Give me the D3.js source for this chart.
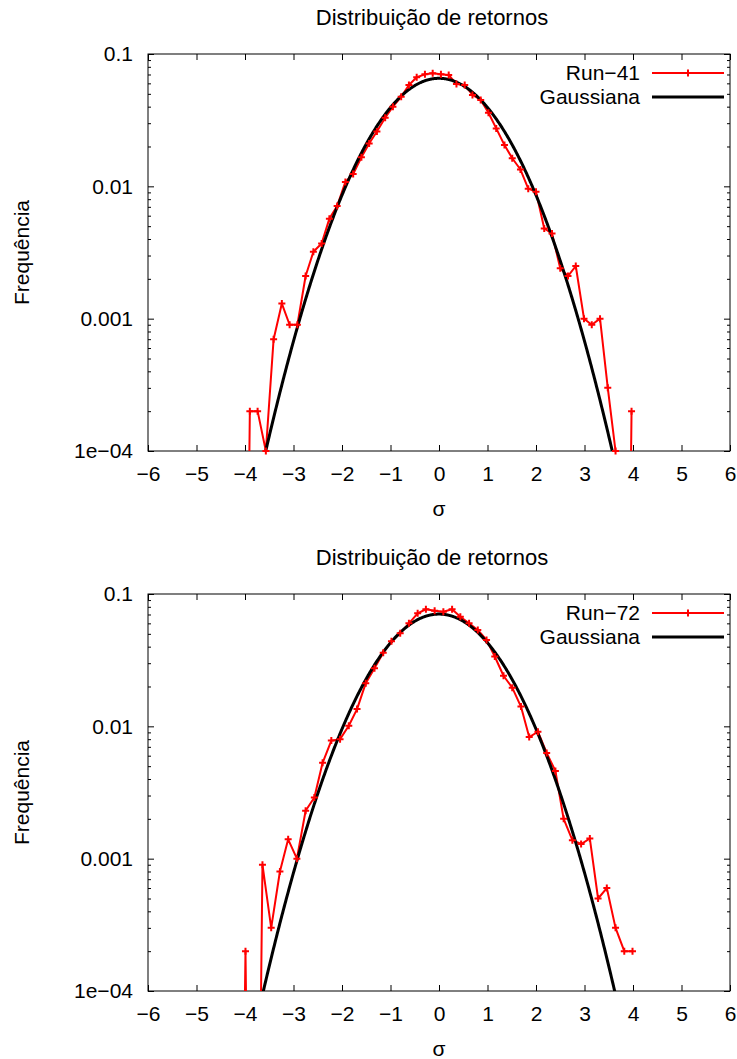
<!DOCTYPE html>
<html>
<head>
<meta charset="utf-8">
<script src="https://cdn.jsdelivr.net/npm/d3@7"></script>
<style>
  body { margin: 0; background: #fff; }
  text { font-family: "Liberation Sans", Arial, sans-serif; font-size: 21px; fill: #000; }
</style>
</head>
<body>
<svg id="chart" width="737" height="1059"></svg>
<script>
// tick values and labels
const xTicks = [-6, -5, -4, -3, -2, -1, 0, 1, 2, 3, 4, 5, 6];
const yTicks = [0.1, 0.01, 0.001, 0.0001];
const yTickLabels = ['0.1', '0.01', '0.001', '1e\u221204'];

// Run-41 histogram (sigma, frequency); 0 = empty bin
const sigma41 = [-4.06, -3.90, -3.74, -3.57, -3.41, -3.24, -3.08, -2.92, -2.75, -2.59, -2.42,
  -2.26, -2.10, -1.93, -1.77, -1.60, -1.44, -1.28, -1.11, -0.95, -0.78, -0.62, -0.46,
  -0.29, -0.13, 0.04, 0.20, 0.36, 0.53, 0.69, 0.86, 1.02, 1.18, 1.35, 1.51, 1.68, 1.84,
  2.00, 2.17, 2.33, 2.50, 2.66, 2.82, 2.99, 3.15, 3.32, 3.48, 3.64, 3.81, 3.97];
const freq41 = [0, 0.0002, 0.0002, 0.0001, 0.0007, 0.0013, 0.0009, 0.0009, 0.0021, 0.0032, 0.0037,
  0.0057, 0.0071, 0.0108, 0.0124, 0.0166, 0.0211, 0.026, 0.033, 0.040, 0.0475, 0.0583, 0.0667,
  0.0702, 0.0715, 0.0702, 0.0694, 0.0593, 0.0583, 0.049, 0.0449, 0.036, 0.0274, 0.0205, 0.0163,
  0.0134, 0.0096, 0.0091, 0.0048, 0.0044, 0.0024, 0.0021, 0.0025, 0.0010, 0.0009, 0.0010,
  0.0003, 0.0001, 0, 0.0002];

// Run-72 histogram
const sigma72 = [-4.17, -3.99, -3.82, -3.64, -3.46, -3.28, -3.11, -2.93, -2.75, -2.57, -2.40,
  -2.22, -2.04, -1.86, -1.69, -1.51, -1.33, -1.15, -0.98, -0.80, -0.62, -0.44, -0.27, -0.09,
  0.09, 0.27, 0.44, 0.62, 0.80, 0.98, 1.15, 1.33, 1.51, 1.69, 1.86, 2.04, 2.22, 2.40, 2.57,
  2.75, 2.93, 3.11, 3.28, 3.46, 3.64, 3.82, 3.99];
const freq72 = [0, 0.0002, 0, 0.0009, 0.0003, 0.0008, 0.0014, 0.0010, 0.0023, 0.0029, 0.0053,
  0.0078, 0.0080, 0.0101, 0.0135, 0.0212, 0.0275, 0.036, 0.044, 0.0505, 0.060, 0.0715, 0.0767,
  0.0748, 0.0735, 0.0767, 0.0674, 0.060, 0.0535, 0.045, 0.0337, 0.0241, 0.0196, 0.0141, 0.0083,
  0.0091, 0.0063, 0.0046, 0.0020, 0.00138, 0.00129, 0.00142, 0.0005, 0.0006, 0.0003, 0.0002,
  0.0002];

// fitted gaussians: amplitude, width
const gauss41 = { amp: 0.0655, sd: 0.992 };
const gauss72 = { amp: 0.0705, sd: 1.0 };

const svg = d3.select('#chart');
svg.append('rect').attr('width', 737).attr('height', 1059).attr('fill', '#fff');

const W = 582, H = 397;
const x = d3.scaleLinear().domain([-6, 6]).range([0, W]);
const y = d3.scaleLog().domain([0.0001, 0.1]).range([H, 0]);
const floorVal = 1e-9; // empty bins drop far below the axis

const minorTicks = [];
[0.0001, 0.001, 0.01].forEach(d => { for (let k = 2; k <= 9; k++) minorTicks.push(d * k); });

function drawPanel(top, runLabel, sig, freq, gauss, id) {
  const g = svg.append('g').attr('transform', `translate(148,${top})`);

  g.append('text').attr('x', W / 2 - 7).attr('y', -29).attr('text-anchor', 'middle')
    .style('font-size', '22px').text('Distribuição de retornos');

  // axes with inward ticks
  g.append('g').attr('transform', `translate(0,${H})`)
    .call(d3.axisBottom(x).tickValues(xTicks).tickSizeInner(-6).tickSizeOuter(0).tickPadding(15)
      .tickFormat(d => d3.format('d')(d)));
  g.append('g').call(d3.axisTop(x).tickValues(xTicks).tickSizeInner(-6).tickSizeOuter(0).tickFormat(''));
  g.append('g').call(d3.axisLeft(y).tickValues(yTicks).tickSizeInner(-6).tickSizeOuter(0).tickPadding(15)
    .tickFormat((d, i) => yTickLabels[i]));
  g.append('g').call(d3.axisLeft(y).tickValues(minorTicks).tickSizeInner(-3).tickSizeOuter(0).tickFormat(''));
  g.append('g').attr('transform', `translate(${W},0)`)
    .call(d3.axisRight(y).tickValues(yTicks).tickSizeInner(-6).tickSizeOuter(0).tickFormat(''));
  g.append('g').attr('transform', `translate(${W},0)`)
    .call(d3.axisRight(y).tickValues(minorTicks).tickSizeInner(-3).tickSizeOuter(0).tickFormat(''));
  g.selectAll('.domain').remove();
  g.selectAll('.tick line').attr('stroke', '#000');
  g.selectAll('.tick text').style('font-size', '21px').attr('fill', '#000')
    .style('font-family', '"Liberation Sans", Arial, sans-serif');

  g.append('rect').attr('width', W).attr('height', H)
    .attr('fill', 'none').attr('stroke', '#000').attr('stroke-width', 1);

  g.append('text').attr('x', W / 2).attr('y', H + 65).attr('text-anchor', 'middle').text('σ');
  g.append('text').attr('transform', `translate(-119,${H / 2}) rotate(-90)`)
    .attr('text-anchor', 'middle').text('Frequência');

  g.append('clipPath').attr('id', id).append('rect').attr('width', W).attr('height', H);
  const plot = g.append('g').attr('clip-path', `url(#${id})`);

  const pts = sig.map((s, i) => ({ s, f: freq[i] }));
  const line = d3.line().x(d => x(d.s)).y(d => y(d.f > 0 ? d.f : floorVal));
  plot.append('path').datum(pts).attr('d', line)
    .attr('fill', 'none').attr('stroke', '#ff0000').attr('stroke-width', 2).attr('stroke-linejoin', 'round');

  const plus = 'M-3.5,0H3.5M0,-3.5V3.5';
  g.append('g').selectAll('path').data(pts.filter(d => d.f >= 0.0001)).join('path')
    .attr('transform', d => `translate(${x(d.s)},${y(d.f)})`)
    .attr('d', plus).attr('stroke', '#ff0000').attr('stroke-width', 2);

  const gx = d3.range(-600, 601).map(v => v / 100);
  const gline = d3.line().x(d => x(d)).y(d => y(gauss.amp * Math.exp(-d * d / (2 * gauss.sd * gauss.sd))));
  plot.append('path').datum(gx).attr('d', gline)
    .attr('fill', 'none').attr('stroke', '#000').attr('stroke-width', 3);

  // key
  const key = g.append('g').attr('transform', `translate(${W},0)`);
  key.append('text').attr('x', -90).attr('y', 26).attr('text-anchor', 'end').text(runLabel);
  key.append('line').attr('x1', -78).attr('x2', -6).attr('y1', 19).attr('y2', 19)
    .attr('stroke', '#ff0000').attr('stroke-width', 2);
  key.append('path').attr('transform', 'translate(-42,19)').attr('d', plus)
    .attr('stroke', '#ff0000').attr('stroke-width', 2);
  key.append('text').attr('x', -90).attr('y', 50).attr('text-anchor', 'end').text('Gaussiana');
  key.append('line').attr('x1', -78).attr('x2', -6).attr('y1', 43).attr('y2', 43)
    .attr('stroke', '#000').attr('stroke-width', 3);
}

drawPanel(54, 'Run\u221241', sigma41, freq41, gauss41, 'clipA');
drawPanel(594, 'Run\u221272', sigma72, freq72, gauss72, 'clipB');
</script>
</body>
</html>
